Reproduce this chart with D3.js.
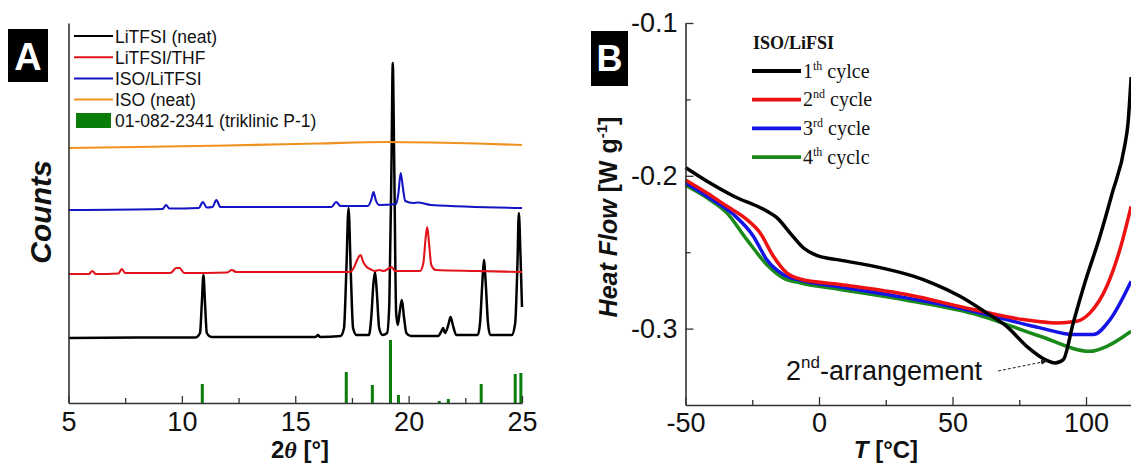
<!DOCTYPE html>
<html>
<head>
<meta charset="utf-8">
<script src="https://cdn.jsdelivr.net/npm/d3@7"></script>
<style>
  html, body { margin: 0; padding: 0; background: #fff; }
  svg { display: block; }
  .sans { font-family: "Liberation Sans", Arial, sans-serif; }
  .serif { font-family: "Liberation Serif", "Times New Roman", serif; }
</style>
</head>
<body>
<svg id="chart" width="1131" height="465"></svg>
<script>
// ---------- Panel A: XRD patterns (2θ, stacked counts) ----------
const xrdTicks = [5, 10, 15, 20, 25];
const xrdMinorTicks = [7.5, 12.5, 17.5, 22.5];

const litfsiNeat = [
  [5.0, 65], [8.0, 65.5], [10.6, 65.5], [10.8, 70], [10.88, 100], [10.95, 128], [11.02, 100],
  [11.1, 70], [11.3, 66], [15.9, 66], [16.0, 68], [16.1, 66], [17.0, 67], [17.15, 75],
  [17.25, 130], [17.35, 195], [17.45, 130], [17.55, 75], [17.7, 68], [18.25, 68], [18.35, 85],
  [18.45, 120], [18.52, 131], [18.6, 110], [18.7, 75], [18.85, 68], [19.05, 70], [19.15, 100],
  [19.25, 250], [19.3, 340], [19.36, 250], [19.45, 90], [19.52, 78], [19.6, 90], [19.7, 103],
  [19.8, 85], [19.9, 70], [20.1, 67], [21.3, 67], [21.45, 72], [21.52, 75], [21.6, 70],
  [21.75, 78], [21.85, 86], [21.95, 78], [22.1, 68], [23.05, 68], [23.15, 80], [23.25, 120],
  [23.32, 143], [23.4, 120], [23.5, 80], [23.6, 68], [24.55, 68], [24.7, 80], [24.8, 140],
  [24.86, 190], [24.93, 150], [25.0, 96]
];
const litfsiThf = [
  [5.0, 129], [5.9, 129], [6.05, 132], [6.2, 129], [7.2, 129.5], [7.35, 134], [7.5, 130],
  [9.5, 130], [9.75, 135], [9.9, 135], [10.1, 130], [12.0, 130.5], [12.2, 133], [12.4, 131],
  [17.4, 131], [17.6, 136], [17.75, 144], [17.88, 148], [18.0, 141], [18.15, 136], [18.3, 134],
  [18.5, 132], [18.7, 133], [18.9, 132], [19.15, 135], [19.25, 136], [19.4, 132], [20.5, 132],
  [20.65, 140], [20.75, 165], [20.82, 176], [20.9, 160], [21.0, 138], [21.2, 133], [23.0, 132],
  [25.0, 131]
];
const isoLitfsi = [
  [5.0, 193], [9.15, 194], [9.3, 198], [9.45, 194.5], [10.75, 195], [10.92, 201], [11.1, 195.5],
  [11.35, 196], [11.52, 203], [11.7, 196], [16.6, 196], [16.8, 201], [17.0, 197], [18.2, 197],
  [18.35, 203], [18.45, 211], [18.55, 203], [18.7, 198], [19.45, 199], [19.55, 210], [19.65, 230],
  [19.75, 215], [19.85, 202], [20.2, 200], [20.4, 200.5], [21.0, 198], [25.0, 195]
];
const isoNeat = [
  [5, 255], [8, 256], [12, 257.5], [16, 259.5], [19, 261], [21, 260.5], [23, 259.5], [25, 258]
];
// reference pattern 01-082-2341: position, relative height
const refPeaks = [
  [10.9, 19], [17.25, 31], [18.4, 18], [19.2, 63], [19.55, 8], [21.35, 2], [21.75, 4],
  [23.2, 19], [24.7, 29], [24.95, 30]
];
const xrdNames = ["LiTFSI (neat)", "LiTFSI/THF", "ISO/LiTFSI", "ISO (neat)"];
const xrdColors = ["#000000", "#e0141a", "#1414c4", "#f0901e"];
const refName = "01-082-2341 (triklinic P-1)";
const refColor = "#0a7c0a";

// ---------- Panel B: DSC heat flow ----------
const dscTicks = [-50, 0, 50, 100];
const dscMinorTicks = [-25, 25, 75];
const hfTicks = [-0.1, -0.2, -0.3];
const hfMinorTicks = [-0.15, -0.25];

const cycle1 = [
  [-50, -0.1946], [-42.1, -0.2034], [-32.1, -0.2132], [-19.6, -0.2231], [-15.8, -0.2274],
  [-10.9, -0.2373], [-5.9, -0.2471], [-0.9, -0.2521], [7.9, -0.2552], [20.3, -0.2591],
  [35.3, -0.2657], [42.8, -0.2705], [52.8, -0.2788], [62.8, -0.2897], [70.3, -0.2985],
  [77.8, -0.3116], [85.3, -0.3208], [88.4, -0.3225], [91.5, -0.3203], [95.2, -0.2963],
  [99.6, -0.2698], [105.2, -0.2397], [109.7, -0.2121], [114.6, -0.1793], [115.7, -0.1662],
  [116.9, -0.1354]
];
const cycle2 = [
  [-50, -0.2027], [-42.1, -0.2111], [-34.6, -0.2198], [-27.1, -0.2285], [-22.1, -0.2373],
  [-17.1, -0.2526], [-12.1, -0.2635], [-7.1, -0.2675], [7.9, -0.2711], [32.8, -0.2777],
  [57.8, -0.2875], [76.5, -0.2941], [89.0, -0.2963], [96.5, -0.2952], [101.5, -0.2897],
  [107.8, -0.2723], [112.7, -0.2482], [116.9, -0.2200]
];
const cycle3 = [
  [-50, -0.2045], [-42.1, -0.2132], [-32.1, -0.2252], [-24.6, -0.2395], [-19.6, -0.2548],
  [-13.4, -0.2646], [-7.1, -0.2683], [7.9, -0.2727], [32.8, -0.2799], [57.8, -0.2886],
  [82.8, -0.2995], [95.2, -0.3039], [102.7, -0.3039], [109.0, -0.2941], [116.9, -0.2690]
];
const cycle4 = [
  [-50, -0.2062], [-42.1, -0.2143], [-34.6, -0.2241], [-27.1, -0.2416], [-19.6, -0.2580],
  [-13.4, -0.2668], [-7.1, -0.2700], [7.9, -0.2744], [32.8, -0.2814], [57.8, -0.2902],
  [82.8, -0.3050], [101.5, -0.3149], [107.8, -0.3116], [116.9, -0.3017]
];
const dscColors = ["#000000", "#ee1111", "#1414e6", "#1a8a1a"];
const dscLegend = [["1", "th", " cylce"], ["2", "nd", " cycle"], ["3", "rd", " cycle"], ["4", "th", " cyclc"]];

const svg = d3.select("#chart");
const axisColor = "#333";
const tickFont = 27;

// ================= Panel A =================
const xA = d3.scaleLinear().domain([5, 25]).range([68.5, 522]);
const yA = d3.scaleLinear().domain([0, 380]).range([403, 23]);
const gA = svg.append("g");

const lineA = d3.line().x(d => xA(d[0])).y(d => yA(d[1])).curve(d3.curveMonotoneX);
[litfsiNeat, litfsiThf, isoLitfsi, isoNeat].forEach((s, i) => {
  gA.append("path").datum(s).attr("d", lineA)
    .attr("fill", "none").attr("stroke", xrdColors[i])
    .attr("stroke-width", i === 0 ? 2.5 : 2.1).attr("stroke-linejoin", "round");
});

gA.selectAll("rect.ref").data(refPeaks).join("rect").attr("class", "ref")
  .attr("x", d => xA(d[0]) - 1.5).attr("width", 3)
  .attr("y", d => yA(d[1])).attr("height", d => yA(0) - yA(d[1]))
  .attr("fill", refColor);

// x axis (ticks point inward)
const axA = gA.append("g").attr("transform", `translate(0,${yA(0)})`)
  .call(d3.axisBottom(xA).tickValues(xrdTicks).tickSize(-7).tickSizeOuter(0).tickPadding(9).tickFormat(d3.format("d")));
gA.append("g").attr("transform", `translate(0,${yA(0)})`)
  .call(d3.axisBottom(xA).tickValues(xrdMinorTicks).tickSize(-5).tickSizeOuter(0).tickFormat(""))
  .select(".domain").remove();
gA.append("g").attr("transform", `translate(${xA(5)},0)`)
  .call(d3.axisLeft(yA).tickValues([]).tickSizeOuter(0));

gA.selectAll(".tick line").attr("stroke", axisColor).attr("stroke-width", 1.3);
gA.selectAll(".domain").attr("stroke", axisColor).attr("stroke-width", 1.6);
axA.selectAll("text").attr("font-size", tickFont).attr("fill", "#111")
  .style("font-family", "'Liberation Sans', Arial, sans-serif");

// x title
gA.append("text").attr("x", 300).attr("y", 458).attr("text-anchor", "middle")
  .attr("class", "sans").attr("font-size", 24).attr("font-weight", "bold").attr("fill", "#111")
  .call(t => {
    t.append("tspan").text("2");
    t.append("tspan").attr("font-style", "italic").attr("font-family", "'Liberation Serif', serif").text("θ");
    t.append("tspan").text("  [°]");
  });

// y title
gA.append("text").attr("transform", "translate(51,212) rotate(-90)").attr("text-anchor", "middle")
  .attr("class", "sans").attr("font-size", 30).attr("font-weight", "bold").attr("font-style", "italic")
  .attr("fill", "#111").text("Counts");

// legend
const legA = gA.append("g");
xrdNames.forEach((name, i) => {
  const y = 36 + i * 21.2;
  legA.append("line").attr("x1", 74).attr("x2", 113).attr("y1", y).attr("y2", y)
    .attr("stroke", xrdColors[i]).attr("stroke-width", 2);
  legA.append("text").attr("x", 115).attr("y", y + 6.5).attr("class", "sans")
    .attr("font-size", 17.5).attr("fill", "#111").text(name);
});
legA.append("rect").attr("x", 76).attr("y", 113).attr("width", 35).attr("height", 15).attr("fill", refColor);
legA.append("text").attr("x", 115).attr("y", 127).attr("class", "sans")
  .attr("font-size", 17.5).attr("fill", "#111").text(refName);

// panel tag
gA.append("rect").attr("x", 8).attr("y", 29).attr("width", 40).attr("height", 53).attr("fill", "#000");
gA.append("text").attr("x", 28).attr("y", 70).attr("text-anchor", "middle").attr("class", "sans")
  .attr("font-size", 38).attr("font-weight", "bold").attr("fill", "#fff").text("A");

// ================= Panel B =================
const xB = d3.scaleLinear().domain([-50, 117]).range([685.5, 1131.4]);
const yB = d3.scaleLinear().domain([-0.35, -0.1]).range([405, 23]);
const gB = svg.append("g");

const lineB = d3.line().x(d => xB(d[0])).y(d => yB(d[1])).curve(d3.curveMonotoneX);
[cycle4, cycle3, cycle2, cycle1].forEach((s, k) => {
  const i = 3 - k;
  gB.append("path").datum(s).attr("d", lineB)
    .attr("fill", "none").attr("stroke", dscColors[i]).attr("stroke-width", 3.5)
    .attr("stroke-linejoin", "round");
});

const axBx = gB.append("g").attr("transform", `translate(0,${yB(-0.35)})`)
  .call(d3.axisBottom(xB).tickValues(dscTicks).tickSize(-8).tickSizeOuter(0).tickPadding(8).tickFormat(d3.format("d")));
gB.append("g").attr("transform", `translate(0,${yB(-0.35)})`)
  .call(d3.axisBottom(xB).tickValues(dscMinorTicks).tickSize(-5).tickSizeOuter(0).tickFormat(""))
  .select(".domain").remove();
const axBy = gB.append("g").attr("transform", `translate(${xB(-50)},0)`)
  .call(d3.axisLeft(yB).tickValues(hfTicks).tickSize(-8).tickSizeOuter(0).tickPadding(8).tickFormat(d3.format(".1f")));
gB.append("g").attr("transform", `translate(${xB(-50)},0)`)
  .call(d3.axisLeft(yB).tickValues(hfMinorTicks).tickSize(-5).tickSizeOuter(0).tickFormat(""))
  .select(".domain").remove();

gB.selectAll(".tick line").attr("stroke", axisColor).attr("stroke-width", 1.3);
gB.selectAll(".domain").attr("stroke", axisColor).attr("stroke-width", 1.6);
gB.selectAll(".tick text").attr("font-size", tickFont).attr("fill", "#111")
  .style("font-family", "'Liberation Sans', Arial, sans-serif")
  .text(function () { return d3.select(this).text().replace("−", "-"); });

// x title
gB.append("text").attr("x", 886).attr("y", 458).attr("text-anchor", "middle")
  .attr("font-size", 24).attr("font-weight", "bold").attr("fill", "#111")
  .style("font-family", "'Liberation Sans', Arial, sans-serif")
  .call(t => {
    t.append("tspan").attr("font-style", "italic").text("T");
    t.append("tspan").text("  [°C]");
  });

// y title
gB.append("text").attr("transform", "translate(617,217) rotate(-90)").attr("text-anchor", "middle")
  .attr("font-size", 25).attr("font-weight", "bold").attr("fill", "#111")
  .style("font-family", "'Liberation Sans', Arial, sans-serif")
  .call(t => {
    t.append("tspan").attr("font-style", "italic").text("Heat Flow");
    t.append("tspan").text("  [W g");
    t.append("tspan").attr("font-size", 15).attr("dy", -10).text("-1");
    t.append("tspan").attr("dy", 10).text("]");
  });

// legend
gB.append("text").attr("x", 753).attr("y", 49).attr("font-size", 18).attr("font-weight", "bold")
  .attr("fill", "#111").style("font-family", "'Liberation Serif', 'Times New Roman', serif").text("ISO/LiFSI");
dscLegend.forEach((lab, i) => {
  const y = 71 + i * 28.7;
  gB.append("line").attr("x1", 752).attr("x2", 801).attr("y1", y).attr("y2", y)
    .attr("stroke", dscColors[i]).attr("stroke-width", 3.8);
  gB.append("text").attr("x", 803).attr("y", y + 6.5).attr("font-size", 20).attr("fill", "#111")
    .style("font-family", "'Liberation Serif', 'Times New Roman', serif")
    .call(t => {
      t.append("tspan").text(lab[0]);
      t.append("tspan").attr("font-size", 12).attr("dy", -8).text(lab[1]);
      t.append("tspan").attr("dy", 8).text(lab[2]);
    });
});

// annotation with dashed arrow towards the black minimum
const defs = svg.append("defs");
defs.append("marker").attr("id", "arrowhead").attr("viewBox", "0 0 10 10")
  .attr("refX", 9).attr("refY", 5).attr("markerWidth", 7).attr("markerHeight", 7)
  .attr("orient", "auto")
  .append("path").attr("d", "M0,1.5 L10,5 L0,8.5 Z").attr("fill", "#222");
gB.append("text").attr("x", 786).attr("y", 380).attr("font-size", 27).attr("fill", "#111")
  .style("font-family", "'Liberation Sans', Arial, sans-serif")
  .call(t => {
    t.append("tspan").text("2");
    t.append("tspan").attr("font-size", 17).attr("dy", -12).text("nd");
    t.append("tspan").attr("dy", 12).text("-arrangement");
  });
gB.append("line").attr("x1", 998).attr("y1", 371).attr("x2", xB(85.5)).attr("y2", 361)
  .attr("stroke", "#222").attr("stroke-width", 1).attr("stroke-dasharray", "3,2")
  .attr("marker-end", "url(#arrowhead)");

// panel tag
gB.append("rect").attr("x", 591).attr("y", 31).attr("width", 37).attr("height", 55).attr("fill", "#000");
gB.append("text").attr("x", 609.5).attr("y", 71).attr("text-anchor", "middle")
  .attr("font-size", 36).attr("font-weight", "bold").attr("fill", "#fff")
  .style("font-family", "'Liberation Sans', Arial, sans-serif").text("B");
</script>
</body>
</html>
